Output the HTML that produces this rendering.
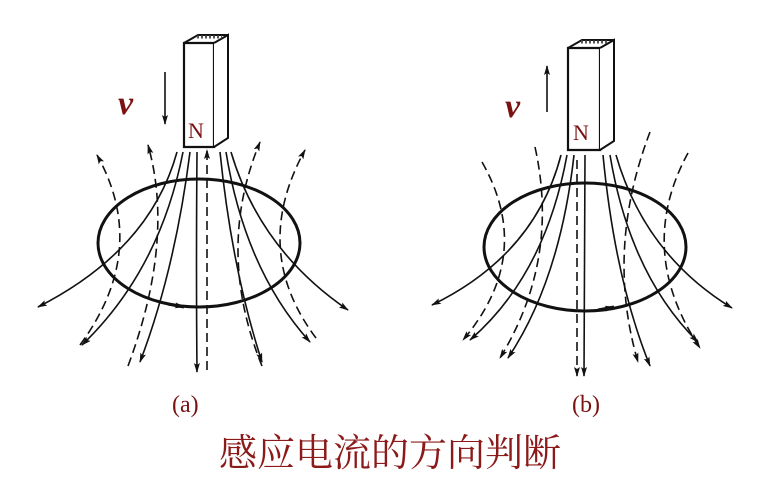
<!DOCTYPE html>
<html><head><meta charset="utf-8"><style>
html,body{margin:0;padding:0;background:#fff;}
svg{display:block;}
</style></head><body>
<svg width="773" height="496" viewBox="0 0 773 496" xmlns="http://www.w3.org/2000/svg">
<defs>
<marker id="ah" viewBox="0 0 10 6" refX="9" refY="3" markerWidth="10" markerHeight="6" orient="auto" markerUnits="userSpaceOnUse">
<path d="M0,0 L10,3 L0,6 L2,3 Z" fill="#111"/></marker>
</defs>

<!-- Panel A -->
<g stroke="#111" fill="none" stroke-width="1.6">
  <ellipse cx="199" cy="243" rx="101" ry="64" stroke-width="3"/>
  <path d="M168,304 L184,307" stroke-width="3" marker-end="url(#ah)"/>
  <!-- magnet -->
  <path d="M184,43 L184,147 L214,147 L214,43 Z" fill="#fff" stroke-width="2.2"/>
  <path d="M214,43 L228,35 L228,138 L214,147" fill="#fff" stroke-width="2"/>
  <path d="M184,43 L198,35 L228,35" stroke-width="2"/>
  <path d="M197,37 L222,37" stroke="#555" stroke-width="3" stroke-dasharray="2 2"/>
  <!-- v arrow -->
  <path d="M165,72 L165,124" marker-end="url(#ah)"/>
  <!-- solid lines -->
  <path d="M177,152 Q150,250 38,307" marker-end="url(#ah)"/>
  <path d="M183,152 Q160,270 82,345" marker-end="url(#ah)"/>
  <path d="M190,152 Q175,270 140,362" marker-end="url(#ah)"/>
  <path d="M197,152 Q196,270 197,372" marker-end="url(#ah)"/>
  <path d="M220,152 Q232,270 262,362" marker-end="url(#ah)"/>
  <path d="M226,152 Q245,270 310,342" marker-end="url(#ah)"/>
  <path d="M231,152 Q260,250 348,310" marker-end="url(#ah)"/>
  <!-- dashed lines (up) -->
  <g stroke-dasharray="9 5">
    <path d="M80,345 Q150,250 97,155" marker-end="url(#ah)"/>
    <path d="M128,366 Q175,240 148,145" marker-end="url(#ah)"/>
    <path d="M207,370 L207,150" marker-end="url(#ah)"/>
    <path d="M262,366 Q215,250 260,142" marker-end="url(#ah)"/>
    <path d="M316,338 Q250,250 305,150" marker-end="url(#ah)"/>
  </g>
</g>

<!-- Panel B -->
<g stroke="#111" fill="none" stroke-width="1.6">
  <ellipse cx="585" cy="247" rx="101" ry="64" stroke-width="3"/>
  <path d="M598,310 L614,307" stroke-width="3" marker-end="url(#ah)"/>
  <path d="M568,48 L568,150 L600,150 L600,48 Z" fill="#fff" stroke-width="2.2"/>
  <path d="M600,48 L614,40 L614,141 L600,150" fill="#fff" stroke-width="2"/>
  <path d="M568,48 L582,40 L614,40" stroke-width="2"/>
  <path d="M581,42 L608,42" stroke="#555" stroke-width="3" stroke-dasharray="2 2"/>
  <path d="M547,112 L547,66" marker-end="url(#ah)"/>
  <path d="M561,155 Q535,255 432,305" marker-end="url(#ah)"/>
  <path d="M567,155 Q545,275 470,340" marker-end="url(#ah)"/>
  <path d="M574,155 Q560,280 508,358" marker-end="url(#ah)"/>
  <path d="M585,155 L584,376" marker-end="url(#ah)"/>
  <path d="M603,155 Q615,280 650,366" marker-end="url(#ah)"/>
  <path d="M610,155 Q630,275 698,342" marker-end="url(#ah)"/>
  <path d="M616,155 Q645,255 732,308" marker-end="url(#ah)"/>
  <g stroke-dasharray="9 5">
    <path d="M482,162 Q535,255 463,340" marker-end="url(#ah)"/>
    <path d="M535,147 Q560,260 500,358" marker-end="url(#ah)"/>
    <path d="M577,160 L577,376" marker-end="url(#ah)"/>
    <path d="M650,132 Q605,250 638,362" marker-end="url(#ah)"/>
    <path d="M688,153 Q635,250 700,348" marker-end="url(#ah)"/>
  </g>
</g>

<g font-family="'Liberation Serif', serif" fill="#7a1212">
  <text x="118" y="114" font-size="34" font-weight="bold" font-style="italic">v</text>
  <text x="188" y="138" font-size="22">N</text>
  <text x="505" y="117" font-size="34" font-weight="bold" font-style="italic">v</text>
  <text x="573" y="140" font-size="22">N</text>
  <text x="172" y="412" font-size="24">(a)</text>
  <text x="572" y="412" font-size="24">(b)</text>
</g>
<text x="390" y="466" text-anchor="middle" font-family="'Liberation Serif','Noto Serif CJK SC',serif" font-size="38" fill="#8b1a1a">感应电流的方向判断</text>
</svg>
</body></html>
